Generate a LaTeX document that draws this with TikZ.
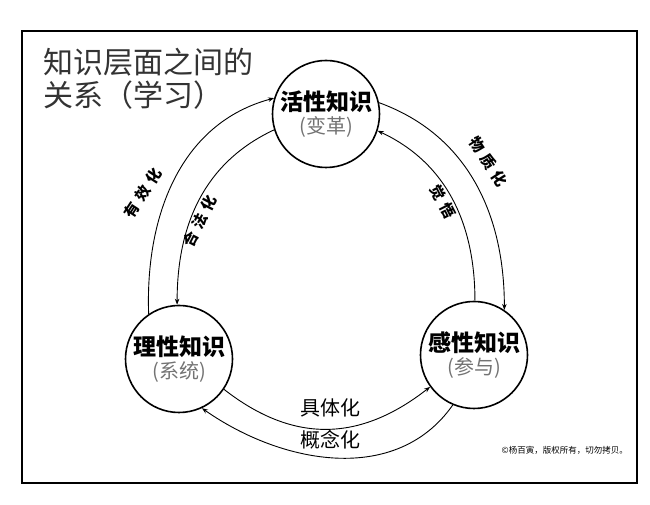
\documentclass[tikz,border=0pt]{standalone}
\usepackage{fontspec}
\setmainfont{Noto Sans CJK SC}
\newfontfamily\labfont[LetterSpace=35]{Noto Sans CJK SC}
\usetikzlibrary{arrows.meta}
\newcommand{\fsz}[1]{\fontsize{#1}{#1}\selectfont}

\begin{document}
\begin{tikzpicture}[x=1pt,y=1pt,
    knode/.style={circle,draw,line width=1.6pt,minimum size=107pt,inner sep=0pt,align=center},
    flow/.style={line width=0.9pt,-{Stealth[length=6pt,width=4.5pt]}},
    lab/.style={font=\labfont\bfseries\fsz{15}},
    bot/.style={font=\fsz{20}}]
    \useasboundingbox (0,0) rectangle (650,505);
    \draw[line width=2.5pt] (22,22) rectangle (637,474);
    % title
    \node[anchor=west,inner sep=0pt,text=black!80,font=\fsz{30}] (ttl1) at (43,443) {知识层面之间的};
    \node[anchor=west,inner sep=0pt,text=black!80,font=\fsz{30}] (ttl2) at (43,410) {关系（学习）};
    % the three kinds of knowledge
    \node[knode] (act) at (326,391) {{\bfseries\fsz{23}活性知识}\\[3pt]{\color{black!55}\fsz{20}(变革)}};
    \node[knode] (rat) at (179,146) {{\bfseries\fsz{23}理性知识}\\[3pt]{\color{black!55}\fsz{20}(系统)}};
    \node[knode] (sen) at (474,150) {{\bfseries\fsz{23}感性知识}\\[3pt]{\color{black!55}\fsz{20}(参与)}};
    % arcs
    \draw[flow] (rat.124) to[out=92,in=195] (act.163);
    \draw[flow] (act.197) to[out=205,in=90] (rat.92);
    \draw[flow] (act.12) to[out=-20,in=90] (sen.56);
    \draw[flow] (sen.89) to[out=90,in=335] (act.342);
    \draw[flow] (rat.326) to[out=-38,in=218,looseness=1.1] (sen.216);
    \draw[flow] (sen.247) to[out=235,in=325] (rat.295);
    \node[lab,rotate=57] (eff) at (143,312) {有效化};
    \node[lab,rotate=63] (leg) at (200,284) {合法化};
    \node[lab,rotate=-57] (mat) at (488,343) {物质化};
    \node[lab,rotate=-63] (awk) at (443,303) {觉悟};
    \node[bot] (con) at (330,97) {具体化};
    \node[bot] (abs) at (330,65) {概念化};
    \node[anchor=east,inner sep=0pt,font=\fsz{8.5}] (cpy) at (628,55) {©杨百寅，版权所有，切勿拷贝。};
\end{tikzpicture}
\end{document}
